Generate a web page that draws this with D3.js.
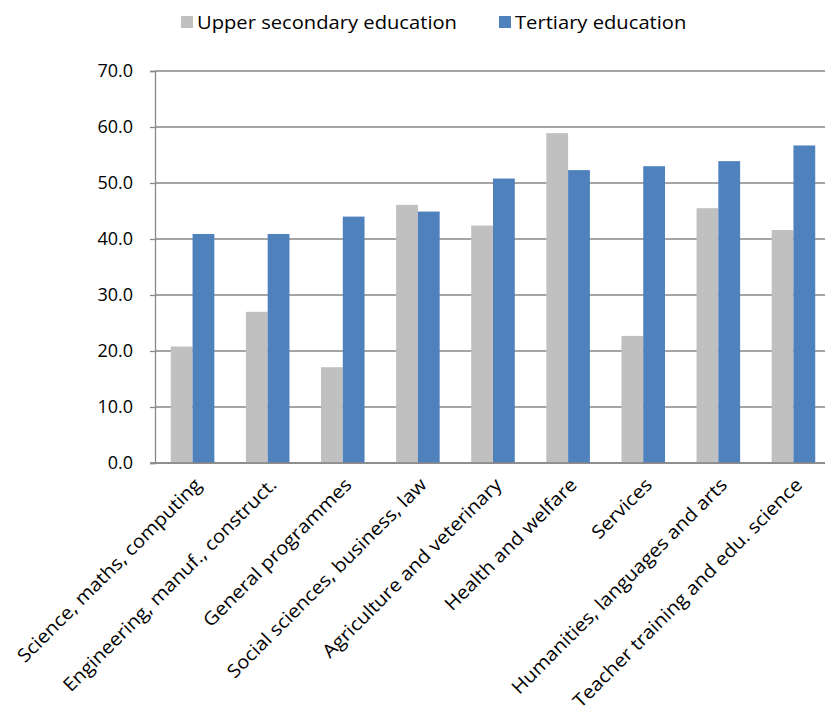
<!DOCTYPE html>
<html>
<head>
<meta charset="utf-8">
<script src="https://cdn.jsdelivr.net/npm/d3@7"></script>
<style>
  html, body { margin: 0; padding: 0; background: #fff; }
  svg { display: block; }
  text { font-family: "Open Sans", "Liberation Sans", sans-serif; fill: #000; }
</style>
</head>
<body>
<svg id="chart" width="825" height="717"></svg>
<script>
const categories = [
  "Science, maths, computing",
  "Engineering, manuf., construct.",
  "General programmes",
  "Social sciences, business, law",
  "Agriculture and veterinary",
  "Health and welfare",
  "Services",
  "Humanities, languages and arts",
  "Teacher training and edu. science"
];
const seriesNames = ["Upper secondary education", "Tertiary education"];
const upperSecondary = [20.8, 27.0, 17.1, 46.1, 42.4, 58.9, 22.7, 45.5, 41.6];
const tertiary = [40.9, 40.9, 44.0, 44.9, 50.8, 52.3, 53.0, 53.9, 56.7];
const yTicks = [0, 10, 20, 30, 40, 50, 60, 70];
const colors = ["#C0C0C0", "#4F81BD"];

const FONT = "'Open Sans', 'Liberation Sans', sans-serif";
const svg = d3.select("#chart");
const pLeft = 155, pRight = 831, pTop = 71, pBottom = 463;

const x = d3.scaleBand().domain(categories).range([pLeft, pRight]).paddingInner(0.42).paddingOuter(0.21);
const xs = d3.scaleBand().domain([0, 1]).range([0, x.bandwidth()]);
const y = d3.scaleLinear().domain([0, 70]).range([pBottom, pTop]);

// gridlines
svg.append("g").selectAll("line").data(yTicks).join("line")
  .attr("x1", pLeft).attr("x2", pRight)
  .attr("y1", d => y(d)).attr("y2", d => y(d))
  .attr("stroke", "#878787").attr("stroke-width", 1.3);

// y axis
const yAxis = d3.axisLeft(y).tickValues(yTicks).tickFormat(d3.format(".1f")).tickSize(5).tickPadding(17);
const ya = svg.append("g").attr("transform", `translate(${pLeft},0)`).call(yAxis);
ya.select(".domain").attr("stroke", "#878787").attr("stroke-width", 1.3);
ya.selectAll(".tick line").attr("stroke", "#878787").attr("stroke-width", 1.3);
ya.selectAll(".tick text").attr("font-size", 18).attr("font-family", FONT).attr("fill", "#000");

// bars
const data = categories.map((c, i) => ({ c, vals: [upperSecondary[i], tertiary[i]] }));
const groups = svg.append("g").selectAll("g").data(data).join("g")
  .attr("transform", d => `translate(${x(d.c)},0)`);
groups.selectAll("rect").data(d => d.vals.map((v, k) => ({ v, k }))).join("rect")
  .attr("x", d => xs(d.k))
  .attr("width", xs.bandwidth())
  .attr("y", d => y(d.v))
  .attr("height", d => y(0) - y(d.v))
  .attr("fill", d => colors[d.k]);

// baseline
svg.append("line").attr("x1", pLeft - 5).attr("x2", pRight).attr("y1", y(0)).attr("y2", y(0))
  .attr("stroke", "#878787").attr("stroke-width", 1.3);

// x labels
const xa = d3.axisBottom(x).tickSize(0).tickPadding(0);
const xg = svg.append("g").attr("transform", `translate(0,${pBottom})`).call(xa);
xg.select(".domain").remove();
xg.selectAll(".tick text")
  .attr("font-size", 18.5).attr("font-family", FONT).attr("fill", "#000")
  .attr("text-anchor", "end")
  .attr("dy", 0)
  .attr("transform", "translate(10,23) rotate(-45) scale(1.09,1)");

// legend
const legendX = [181, 499];
const lg = svg.append("g").selectAll("g").data(seriesNames).join("g")
  .attr("transform", (d, i) => `translate(${legendX[i]},16)`);
lg.append("rect").attr("width", 12).attr("height", 12).attr("fill", (d, i) => colors[i]);
lg.append("text").attr("transform", "translate(16,13) scale(1.09,1)").attr("font-size", 18.5).attr("font-family", FONT).text(d => d);
</script>
</body>
</html>
